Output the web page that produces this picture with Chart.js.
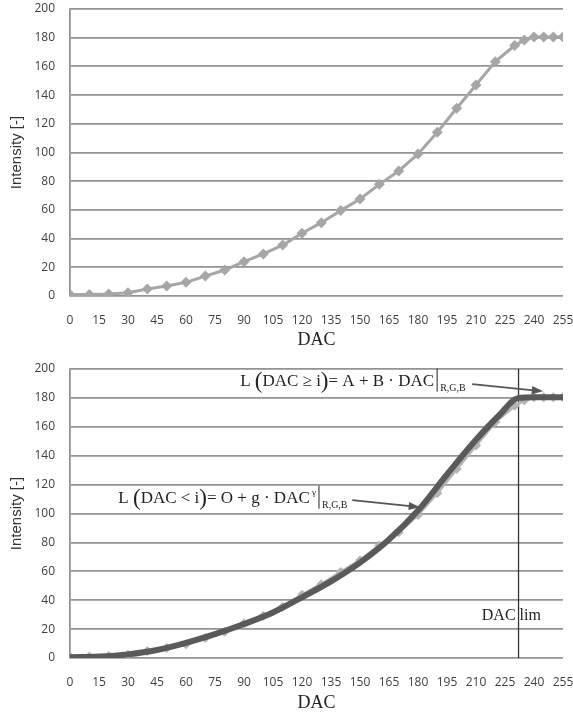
<!DOCTYPE html>
<html>
<head>
<meta charset="utf-8">
<script src="https://cdn.jsdelivr.net/npm/chart.js@4.4.0/dist/chart.umd.min.js"></script>
<style>
  html, body { margin: 0; padding: 0; background: #fff; }
  .box { position: relative; width: 573px; }
  #top { height: 355px; }
  #bottom { height: 363px; }
</style>
</head>
<body>
<div class="box" id="top"><canvas id="chartTop"></canvas></div>
<div class="box" id="bottom"><canvas id="chartBottom"></canvas></div>
<script>
// measured DAC levels and intensities
const dacLevels = [0, 10, 20, 30, 40, 50, 60, 70, 80, 90, 100, 110, 120, 130, 140, 150, 160, 170, 180, 190, 200, 210, 220, 230, 235, 240, 245, 250, 255];
const intensity = [1, 1, 1.4, 2.3, 4.9, 7, 9.5, 13.9, 18.1, 23.9, 29.3, 35.5, 43.7, 51.1, 59.5, 67.6, 77.8, 87.1, 99, 114.1, 130.8, 147, 163.3, 174.5, 178.4, 180.5, 180.5, 180.5, 180.5];

// fitted model curve
const fitDac = [0, 15, 30, 45, 60, 75, 90, 105, 120, 135, 150, 165, 180, 195, 210, 222, 232, 240, 255];
const fitIntensity = [0.5, 1, 2.5, 5.5, 10.5, 16.5, 23.5, 31.5, 42, 53, 66, 82, 102, 127, 151, 168, 180, 180.5, 180.5];

const dacLim = 232;
const yTicks = [0, 20, 40, 60, 80, 100, 120, 140, 160, 180, 200];
const xTicks = [0, 15, 30, 45, 60, 75, 90, 105, 120, 135, 150, 165, 180, 195, 210, 225, 240, 255];

const gridColor = '#939393';
const tickFont = { family: '"Open Sans", sans-serif', size: 12 };
const serif = '"Liberation Serif", "DejaVu Serif", serif';

function pts(xs, ys) {
    return xs.map((x, i) => ({ x: x, y: ys[i] }));
}

function makeScales(xHeight) {
    return {
        x: {
            type: 'linear',
            min: 0,
            max: 255,
            afterBuildTicks: (s) => { s.ticks = xTicks.map(v => ({ value: v })); },
            afterFit: (s) => { s.height = xHeight; s.paddingLeft = 0; s.paddingRight = 0; },
            grid: { display: false, drawTicks: false },
            border: { display: false },
            ticks: { color: '#404040', font: tickFont, padding: 17, maxRotation: 0, autoSkip: false },
            title: {
                display: true,
                text: 'DAC',
                color: '#222',
                font: { family: serif, size: 18 },
                padding: { top: 0, bottom: 4 }
            }
        },
        y: {
            min: 0,
            max: 200,
            afterBuildTicks: (s) => { s.ticks = yTicks.map(v => ({ value: v })); },
            afterFit: (s) => { s.width = 70; s.paddingTop = 0; s.paddingBottom = 0; },
            grid: { color: gridColor, lineWidth: 1.8, drawTicks: false },
            border: { display: true, color: gridColor, width: 1.8 },
            ticks: { color: '#404040', font: tickFont, padding: 15 },
            title: {
                display: true,
                text: 'Intensity [-]',
                color: '#333',
                font: { family: '"Liberation Sans", Arial, sans-serif', size: 15 },
                padding: { top: 8, bottom: 0 }
            }
        }
    };
}

// draws a run of text pieces, returns the end x
function drawRuns(ctx, runs, x, y) {
    ctx.textBaseline = 'alphabetic';
    ctx.textAlign = 'left';
    runs.forEach(r => {
        ctx.font = r.size + 'px ' + serif;
        ctx.fillText(r.t, x, y + (r.dy || 0));
        x += ctx.measureText(r.t).width;
    });
    return x;
}

function drawFormula(ctx, runs, x, y) {
    let end = drawRuns(ctx, runs, x, y);
    end += 3;
    ctx.beginPath();
    ctx.lineWidth = 1;
    ctx.moveTo(end, y - 17);
    ctx.lineTo(end, y + 6);
    ctx.stroke();
    drawRuns(ctx, [{ t: 'R,G,B', size: 10, dy: 5 }], end + 3, y);
}

function drawArrow(ctx, x1, y1, x2, y2) {
    const ang = Math.atan2(y2 - y1, x2 - x1);
    const head = 12;
    ctx.strokeStyle = '#555';
    ctx.fillStyle = '#555';
    ctx.lineWidth = 1.8;
    ctx.beginPath();
    ctx.moveTo(x1, y1);
    ctx.lineTo(x2 - Math.cos(ang) * head * 0.8, y2 - Math.sin(ang) * head * 0.8);
    ctx.stroke();
    ctx.beginPath();
    ctx.moveTo(x2, y2);
    ctx.lineTo(x2 - head * Math.cos(ang - 0.35), y2 - head * Math.sin(ang - 0.35));
    ctx.lineTo(x2 - head * Math.cos(ang + 0.35), y2 - head * Math.sin(ang + 0.35));
    ctx.closePath();
    ctx.fill();
}

const notes = {
    id: 'notes',
    afterDatasetsDraw(chart) {
        const ctx = chart.ctx;
        const sx = chart.scales.x, sy = chart.scales.y;
        const px = v => sx.getPixelForValue(v);
        const py = v => sy.getPixelForValue(v);
        ctx.save();
        ctx.fillStyle = '#222';
        ctx.strokeStyle = '#222';
        drawFormula(ctx, [
            { t: 'L ', size: 17 },
            { t: '(', size: 23, dy: 2 },
            { t: 'DAC ≥ i', size: 17 },
            { t: ')', size: 23, dy: 2 },
            { t: '= A + B · DAC', size: 17 }
        ], px(88), py(188.5));
        drawFormula(ctx, [
            { t: 'L ', size: 17 },
            { t: '(', size: 23, dy: 2 },
            { t: 'DAC < i', size: 17 },
            { t: ')', size: 23, dy: 2 },
            { t: '= O + g · DAC', size: 17 },
            { t: ' γ', size: 9, dy: -8 }
        ], px(25), py(107.5));
        ctx.font = '16px ' + serif;
        ctx.fillStyle = '#222';
        ctx.textBaseline = 'middle';
        ctx.fillText('DAC lim', px(213), py(29));
        drawArrow(ctx, px(208), py(189.6), px(244.7), py(184.6));
        drawArrow(ctx, px(146), py(109.2), px(181), py(104.4));
        ctx.restore();
    }
};

new Chart(document.getElementById('chartTop'), {
    type: 'line',
    data: {
        datasets: [{
            data: pts(dacLevels, intensity),
            borderColor: '#a6a6a6',
            backgroundColor: '#a6a6a6',
            borderWidth: 3,
            pointStyle: 'rectRot',
            pointRadius: 5.5,
            pointBorderWidth: 0,
            tension: 0
        }]
    },
    options: {
        responsive: true,
        maintainAspectRatio: false,
        animation: false,
        layout: { padding: { left: 0, right: 10, top: 9, bottom: 0 } },
        plugins: { legend: { display: false }, tooltip: { enabled: false } },
        scales: makeScales(59)
    }
});

new Chart(document.getElementById('chartBottom'), {
    type: 'line',
    data: {
        datasets: [{
            data: pts(fitDac, fitIntensity),
            borderColor: '#5a5a5a',
            borderWidth: 6,
            pointRadius: 0,
            cubicInterpolationMode: 'monotone',
            order: 0
        }, {
            data: pts(dacLevels, intensity),
            borderColor: '#b4b4b4',
            backgroundColor: '#b4b4b4',
            borderWidth: 3,
            pointStyle: 'rectRot',
            pointRadius: 5,
            pointBorderWidth: 0,
            tension: 0,
            order: 1
        }, {
            data: [{ x: dacLim, y: 0 }, { x: dacLim, y: 200 }],
            borderColor: '#333',
            borderWidth: 1.3,
            pointRadius: 0,
            order: 2
        }]
    },
    options: {
        responsive: true,
        maintainAspectRatio: false,
        animation: false,
        layout: { padding: { left: 0, right: 10, top: 14, bottom: 0 } },
        plugins: { legend: { display: false }, tooltip: { enabled: false } },
        scales: makeScales(60)
    },
    plugins: [notes]
});
</script>
</body>
</html>
